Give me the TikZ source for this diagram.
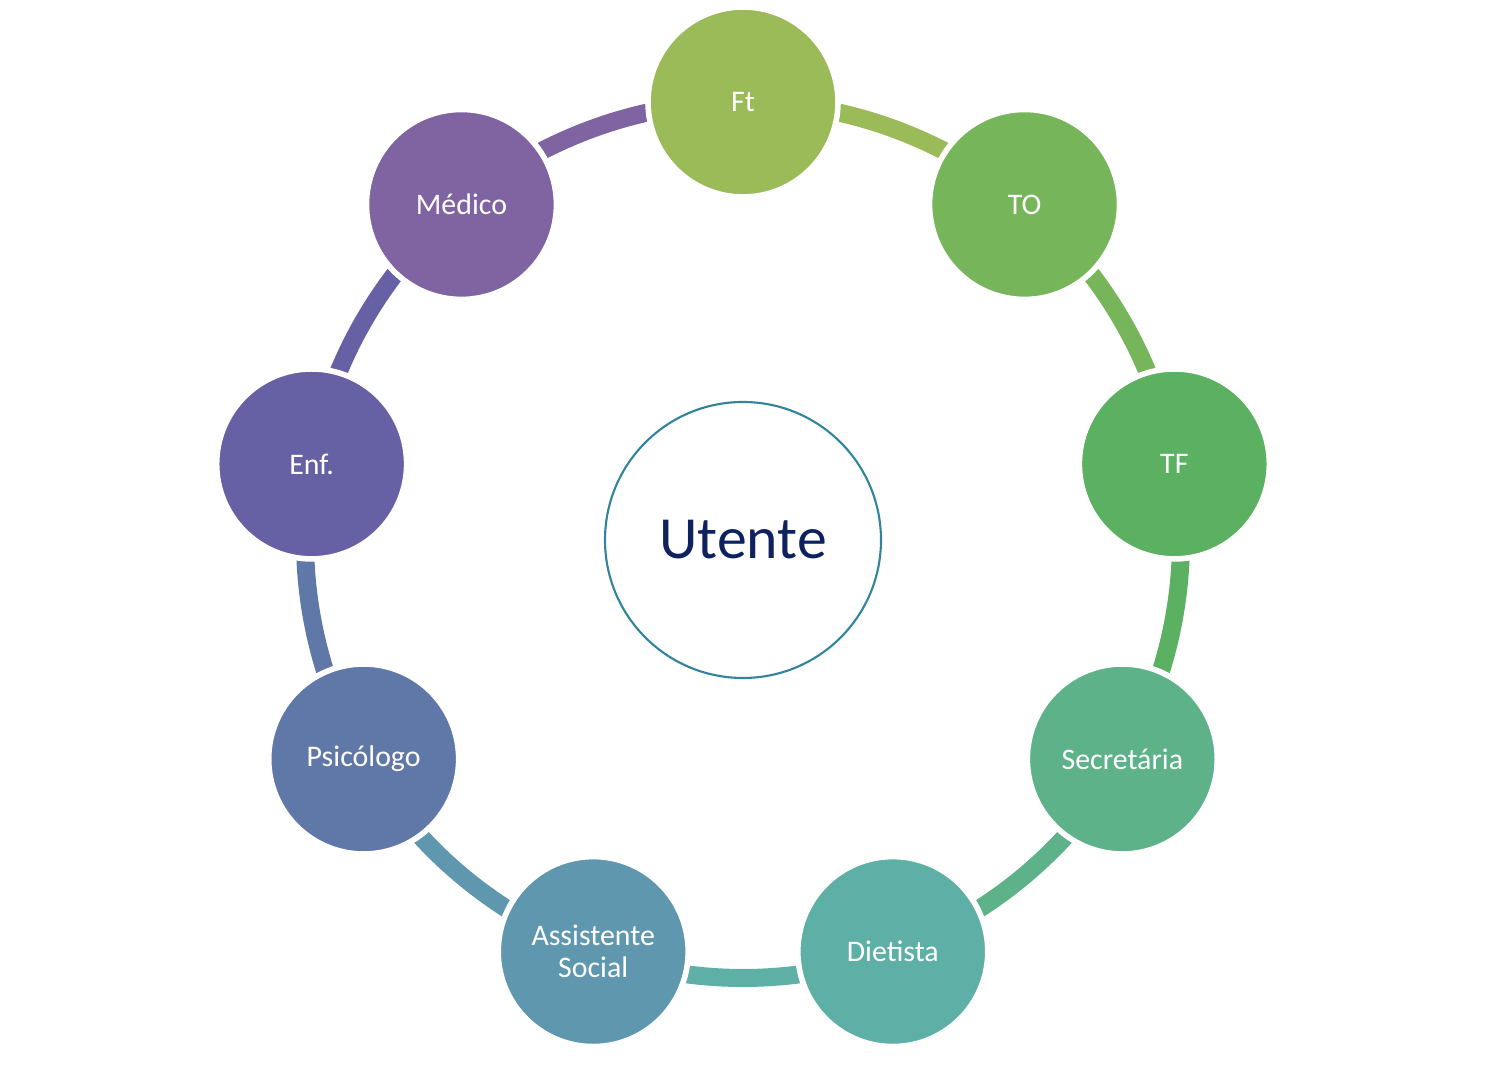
\documentclass[tikz,border=0pt]{standalone}
\usepackage{fontspec}
\setmainfont{Carlito}
\usetikzlibrary{shadows,calc}
\definecolor{cFt}{HTML}{9BBB59}
\definecolor{cTO}{HTML}{77B55A}
\definecolor{cTF}{HTML}{5BB062}
\definecolor{cSec}{HTML}{5EB28A}
\definecolor{cDie}{HTML}{5EAFA6}
\definecolor{cAss}{HTML}{5F97AE}
\definecolor{cPsi}{HTML}{6078A8}
\definecolor{cEnf}{HTML}{6660A4}
\definecolor{cMed}{HTML}{8064A2}
\definecolor{navy}{HTML}{0F2260}
\definecolor{teal}{HTML}{31849B}
\tikzset{
  member/.style={circle, minimum size=1.9cm, draw=white, line width=1.6pt,
    text=white, align=center, font=\fontsize{8.5}{9}\selectfont,
    drop shadow={shadow xshift=0.3pt, shadow yshift=-0.6pt, opacity=0.35}},
  centre/.style={circle, minimum size=2.76cm, draw=teal, line width=0.6pt,
    fill=white, text=navy, font=\fontsize{17}{18}\selectfont},
  ring/.style={line width=0.18cm}
}
\begin{document}
\begin{tikzpicture}
\useasboundingbox (0,0) rectangle (14.86,10.80);
\coordinate (o) at (7.43,5.40);
\def\R{4.38}
% ring segments
\foreach \i/\c in {0/cFt,1/cTO,2/cTF,3/cSec,4/cDie,5/cAss,6/cPsi,7/cEnf,8/cMed}{
  \draw[ring, \c] ($(o)+({90-40*\i}:\R)$) arc[start angle={90-40*\i}, end angle={50-40*\i}, radius=\R];
}
% members
\foreach \i/\c/\t/\n in {0/cFt/Ft/ft,1/cTO/TO/to,2/cTF/TF/tf,3/cSec/Secretária/sec,
  4/cDie/Dietista/die,5/cAss/{Assistente\\Social}/ass,6/cPsi/Psicólogo/psi,7/cEnf/Enf./enf,8/cMed/Médico/med}{
  \node[member, fill=\c] (\n) at ($(o)+({90-40*\i}:\R)$) {\t};
}
\node[centre] (utente) at (o) {Utente};
\end{tikzpicture}
\end{document}
